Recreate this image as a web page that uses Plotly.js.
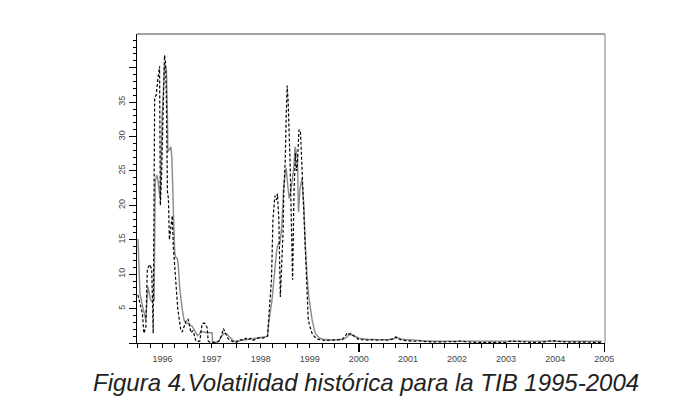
<!DOCTYPE html>
<html>
<head>
<meta charset="utf-8">
<script src="https://cdn.plot.ly/plotly-3.0.1.min.js"></script>
<style>html,body{margin:0;padding:0;background:#fff;}#chart{width:700px;height:411px;}</style>
</head>
<body>
<div id="chart"></div>
<script>
// Historical volatility (dashed black)
const histT = [1995.50,1995.54,1995.59,1995.62,1995.66,1995.69,1995.74,1995.78,1995.81,1995.84,1995.87,1995.90,1995.92,1995.94,1995.955,1995.98,1996.00,1996.02,1996.04,1996.06,1996.08,1996.10,1996.12,1996.14,1996.17,1996.20,1996.22,1996.25,1996.28,1996.31,1996.34,1996.37,1996.40,1996.44,1996.48,1996.52,1996.55,1996.58,1996.62,1996.65,1996.68,1996.72,1996.76,1996.79,1996.81,1996.85,1996.88,1996.91,1996.93,1996.97,1997.00,1997.05,1997.10,1997.15,1997.20,1997.24,1997.27,1997.30,1997.34,1997.38,1997.42,1997.46,1997.50,1997.55,1997.60,1997.65,1997.70,1997.75,1997.80,1997.85,1997.90,1997.95,1998.00,1998.05,1998.10,1998.14,1998.17,1998.20,1998.22,1998.25,1998.27,1998.29,1998.32,1998.34,1998.37,1998.40,1998.42,1998.44,1998.46,1998.47,1998.50,1998.52,1998.54,1998.56,1998.58,1998.60,1998.61,1998.63,1998.65,1998.67,1998.68,1998.71,1998.73,1998.75,1998.77,1998.78,1998.81,1998.83,1998.85,1998.88,1998.90,1998.93,1998.97,1999.01,1999.05,1999.10,1999.15,1999.20,1999.25,1999.32,1999.40,1999.50,1999.60,1999.66,1999.72,1999.77,1999.80,1999.84,1999.90,1999.95,2000.00,2000.10,2000.20,2000.30,2000.40,2000.50,2000.60,2000.70,2000.75,2000.80,2000.90,2001.00,2001.10,2001.20,2001.30,2001.40,2001.50,2001.60,2001.80,2002.00,2002.10,2002.20,2002.40,2002.60,2002.80,2003.00,2003.10,2003.20,2003.30,2003.50,2003.70,2003.90,2004.00,2004.20,2004.40,2004.60,2004.80,2004.95];
const histV = [7.0,5.8,4.3,1.4,2.3,10.7,11.4,10.7,1.4,35.7,36.0,38.0,39.5,40.2,20.0,24.0,30.0,38.0,41.8,41.0,35.0,22.0,21.0,15.0,17.0,18.5,14.0,10.8,8.0,5.0,3.5,2.0,1.6,2.5,3.2,3.5,2.5,1.5,1.8,0.8,0.3,0.2,0.3,2.0,2.8,2.9,2.7,2.2,0.3,0.1,0.1,0.1,0.1,0.3,1.0,2.1,1.6,1.0,0.6,0.4,0.2,0.1,0.1,0.3,0.5,0.4,0.7,0.5,0.7,0.4,0.6,0.7,0.8,0.7,0.9,1.0,4.3,7.0,9.2,18.0,20.5,21.4,20.8,21.7,18.0,6.7,10.0,13.1,17.0,22.0,26.4,33.0,37.4,35.0,31.7,26.0,22.4,15.0,9.2,18.0,22.4,27.6,25.0,26.4,29.0,31.0,30.8,27.0,23.9,20.0,16.1,8.2,3.3,2.2,1.35,0.9,0.6,0.5,0.4,0.35,0.4,0.45,0.4,0.5,1.0,1.5,1.3,1.4,1.0,0.8,0.45,0.5,0.4,0.5,0.4,0.5,0.4,0.6,0.9,0.6,0.4,0.3,0.25,0.3,0.2,0.2,0.15,0.15,0.1,0.2,0.3,0.15,0.1,0.1,0.1,0.1,0.3,0.3,0.2,0.1,0.1,0.3,0.3,0.15,0.1,0.1,0.1,0.1];

// Smoothed / model volatility (solid grey)
const smoothT = [1995.50,1995.52,1995.54,1995.58,1995.62,1995.66,1995.70,1995.73,1995.76,1995.80,1995.83,1995.85,1995.88,1995.90,1995.95,1995.97,1995.99,1996.02,1996.04,1996.07,1996.08,1996.10,1996.11,1996.13,1996.15,1996.17,1996.19,1996.21,1996.23,1996.25,1996.27,1996.30,1996.32,1996.35,1996.37,1996.40,1996.44,1996.48,1996.52,1996.56,1996.61,1996.65,1996.71,1996.75,1996.78,1996.84,1996.92,1997.01,1997.02,1997.10,1997.15,1997.20,1997.26,1997.31,1997.36,1997.40,1997.45,1997.52,1997.60,1997.70,1997.80,1997.90,1998.00,1998.10,1998.14,1998.17,1998.20,1998.23,1998.26,1998.29,1998.32,1998.34,1998.37,1998.39,1998.41,1998.43,1998.45,1998.47,1998.50,1998.52,1998.55,1998.58,1998.60,1998.62,1998.65,1998.68,1998.70,1998.71,1998.73,1998.75,1998.76,1998.77,1998.80,1998.82,1998.84,1998.86,1998.88,1998.91,1998.93,1998.95,1998.98,1999.02,1999.05,1999.09,1999.12,1999.17,1999.22,1999.30,1999.40,1999.50,1999.60,1999.70,1999.76,1999.80,1999.85,1999.90,1999.95,2000.00,2000.10,2000.20,2000.30,2000.40,2000.50,2000.60,2000.70,2000.78,2000.85,2000.95,2001.10,2001.30,2001.50,2001.70,2001.90,2002.10,2002.30,2002.50,2002.70,2002.90,2003.10,2003.30,2003.50,2003.70,2003.90,2004.10,2004.30,2004.50,2004.70,2004.95];
const smoothV = [15.1,11.0,7.3,5.8,4.5,3.3,8.2,7.0,6.2,6.0,6.2,23.4,24.4,24.0,21.0,26.0,32.7,37.0,40.5,40.0,39.6,33.0,27.8,28.0,28.3,28.5,27.0,20.0,17.0,13.0,12.4,12.3,11.5,8.0,6.7,5.0,3.3,2.8,2.9,2.6,2.4,1.8,1.1,1.3,1.7,1.6,1.5,1.5,0.1,0.1,0.3,1.0,1.4,1.3,0.9,0.6,0.3,0.3,0.4,0.5,0.6,0.7,0.8,0.9,1.0,3.3,4.5,6.2,8.5,11.1,13.0,14.1,14.5,14.3,15.5,17.0,20.0,22.9,24.5,25.4,23.0,21.0,21.5,22.9,24.0,25.9,28.5,28.3,27.5,27.3,22.0,19.0,22.4,23.5,23.9,22.0,20.0,14.1,11.0,9.2,6.7,4.5,3.3,2.0,1.35,0.9,0.65,0.5,0.45,0.45,0.5,0.6,0.9,1.2,1.2,1.1,0.9,0.7,0.55,0.5,0.5,0.45,0.45,0.5,0.6,0.8,0.6,0.5,0.4,0.35,0.3,0.3,0.25,0.25,0.25,0.25,0.25,0.25,0.25,0.25,0.25,0.25,0.25,0.25,0.25,0.25,0.25,0.25];

const yearTicks = [1996,1997,1998,1999,2000,2001,2002,2003,2004,2005];
const yearLabels = ['1996','1997','1998','1999','2000','2001','2002','2003','2004','2005'];
const longTicks = [2000,2005];
const yTicks = [0,5,10,15,20,25,30,35,40];
const yLabels = ['','5','10','15','20','25','30','35',''];
const caption = 'Figura 4.Volatilidad histórica para la TIB 1995-2004';

const FONT = 'Liberation Sans, Arial, sans-serif';
const xr = [1995.48, 2005.015];

const traces = [
  {x: smoothT, y: smoothV, type: 'scatter', mode: 'lines',
   line: {color: '#8a8a8a', width: 1.4}, hoverinfo: 'skip'},
  {x: histT, y: histV, type: 'scatter', mode: 'lines',
   line: {color: '#000000', width: 1.2, dash: '3px,2px'}, hoverinfo: 'skip'},
  {x: [], y: [], xaxis: 'x2', type: 'scatter', mode: 'lines', hoverinfo: 'skip'}
];

const layout = {
  width: 700, height: 411,
  margin: {l: 137, r: 95, t: 34, b: 68, pad: 0},
  paper_bgcolor: '#ffffff', plot_bgcolor: '#ffffff',
  showlegend: false,
  xaxis: {
    range: xr, showgrid: false, zeroline: false,
    showline: true, linecolor: '#000', linewidth: 1,
    ticks: 'outside', ticklen: 4, tickwidth: 1, tickcolor: '#000',
    tickvals: yearTicks, ticktext: yearLabels,
    tickfont: {family: FONT, size: 9, color: '#444'},
    ticklabelstandoff: 3,
    minor: {dtick: 0.25, tick0: 1996, ticks: 'outside', ticklen: 4, tickwidth: 1, tickcolor: '#000', showgrid: false}
  },
  xaxis2: {
    range: xr, overlaying: 'x', anchor: 'y', side: 'bottom',
    showgrid: false, zeroline: false, showline: false,
    ticks: 'outside', ticklen: 8, tickwidth: 1.3, tickcolor: '#000',
    tickvals: longTicks, showticklabels: false
  },
  yaxis: {
    range: [0, 44.9], showgrid: false, zeroline: false,
    showline: true, linecolor: '#000', linewidth: 1,
    ticks: 'outside', ticklen: 7, tickwidth: 1, tickcolor: '#000',
    tickvals: yTicks, ticktext: yLabels, tickangle: -90,
    tickfont: {family: FONT, size: 9, color: '#444'},
    minor: {dtick: 1, tick0: 0, ticks: 'outside', ticklen: 3.5, tickwidth: 1, tickcolor: '#000', showgrid: false}
  },
  shapes: [
    {type: 'line', xref: 'paper', yref: 'paper', x0: 0, x1: 1, y0: 1, y1: 1, line: {color: '#444', width: 1.2}},
    {type: 'line', xref: 'paper', yref: 'paper', x0: 1, x1: 1, y0: 0, y1: 1, line: {color: '#aaaaaa', width: 1.5}}
  ],
  annotations: [
    {text: caption, xref: 'paper', yref: 'paper', x: 0.489, y: -0.077,
     xanchor: 'center', yanchor: 'top', showarrow: false,
     font: {family: FONT, size: 24, color: '#222', style: 'italic'}}
  ]
};

Plotly.newPlot('chart', traces, layout, {displayModeBar: false, staticPlot: true});
</script>
</body>
</html>
